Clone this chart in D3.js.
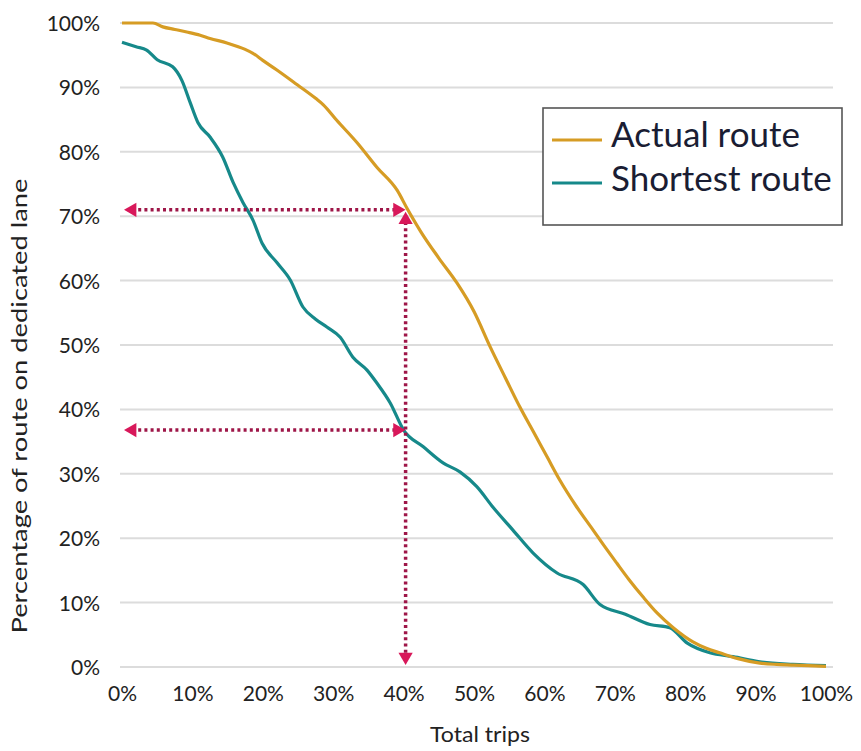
<!DOCTYPE html>
<html>
<head>
<meta charset="utf-8">
<script src="https://cdn.jsdelivr.net/npm/d3@7"></script>
<style>
  html, body { margin: 0; padding: 0; background: #fff; }
  svg { display: block; font-family: Lato, "Open Sans", sans-serif; }
</style>
</head>
<body>
<svg id="chart" width="861" height="751"></svg>
<script>
// ---- data ----
const xTicks = [0, 10, 20, 30, 40, 50, 60, 70, 80, 90, 100];
const yTicks = [0, 10, 20, 30, 40, 50, 60, 70, 80, 90, 100];

const actualX = [0, 2.5, 4.4, 5.8, 7.5, 9.2, 11.1, 12.5, 14.9, 17.5, 18.6, 20, 22, 24.9, 27.5, 28.6, 30.5, 33.4, 36.2, 39.1, 40.5, 42.5, 45, 47.6, 50, 52.3, 54.5, 56.5, 58.5, 60.4, 62.2, 64.5, 66.9, 68.5, 70.3, 72, 74, 76, 78.3, 81.1, 83, 84.9, 87.5, 90.6, 93, 95.5, 97.5, 100];
const actualY = [100, 100, 100, 99.4, 99.0, 98.6, 98.1, 97.6, 96.9, 95.9, 95.3, 94.2, 92.7, 90.4, 88.3, 87.3, 84.9, 81.4, 77.6, 74.0, 71.2, 67.5, 63.5, 59.6, 55.2, 49.7, 44.8, 40.4, 36.4, 32.6, 29.0, 25.0, 21.3, 18.8, 16.1, 13.6, 10.9, 8.4, 6.1, 3.9, 2.9, 2.2, 1.3, 0.6, 0.4, 0.3, 0.2, 0.1];

const shortX = [0, 2, 3.5, 5, 7.2, 8.5, 9.7, 10.8, 12.5, 14.3, 15.8, 17.2, 18.6, 19.9, 22, 23.9, 25.7, 27.5, 29.1, 31, 32.8, 34.8, 36.2, 38.1, 40, 42.8, 45.6, 48, 50.4, 52.7, 55.5, 58.4, 61.8, 65.5, 67.9, 71.5, 75, 77.8, 80.3, 83.5, 86.8, 90.6, 95.3, 100];
const shortY = [97.0, 96.3, 95.8, 94.3, 93.2, 91.1, 87.6, 84.5, 82.3, 79.2, 75.2, 72.1, 69.4, 65.8, 62.8, 60.1, 55.9, 54.0, 52.8, 51.2, 48.1, 46.1, 44.1, 41.0, 36.8, 34.2, 31.7, 30.3, 28.0, 24.8, 21.3, 17.7, 14.6, 12.8, 9.7, 8.2, 6.6, 6.1, 3.7, 2.2, 1.6, 0.8, 0.4, 0.2];

const seriesNames = ["Actual route", "Shortest route"];
const seriesColors = ["#D69C24", "#16898A"];

// guide annotations: at 40% of trips
const guideX = 40;
const guideYs = [71.0, 36.8];

// ---- layout ----
const svg = d3.select("#chart");
const x = d3.scaleLinear().domain([0, 100]).range([122, 826]);
const y = d3.scaleLinear().domain([0, 100]).range([667, 23]);
const fmt = d => d + "%";

// gridlines
svg.append("g").selectAll("line").data(yTicks).join("line")
  .attr("x1", 120).attr("x2", 833)
  .attr("y1", d => y(d)).attr("y2", d => y(d))
  .attr("stroke", "#dcdcdc").attr("stroke-width", 2);

// y axis
const yAxis = svg.append("g").attr("transform", "translate(100,0)")
  .call(d3.axisLeft(y).tickValues(yTicks).tickFormat(fmt).tickSize(0).tickPadding(0));
yAxis.select(".domain").remove();
yAxis.selectAll("text").attr("font-size", 21).attr("fill", "#222")
  .attr("font-family", "Lato, sans-serif").attr("dy", "0.36em");

// x axis
const xAxis = svg.append("g").attr("transform", "translate(0,683)")
  .call(d3.axisBottom(x).tickValues(xTicks).tickFormat(fmt).tickSize(0).tickPadding(0));
xAxis.select(".domain").remove();
xAxis.selectAll("text").attr("font-size", 21).attr("fill", "#222")
  .attr("font-family", "Lato, sans-serif").attr("dy", "0.85em");

// axis titles
svg.append("text").attr("x", 480).attr("y", 742).attr("text-anchor", "middle")
  .attr("font-size", 21).attr("fill", "#222")
  .attr("textLength", 100).attr("lengthAdjust", "spacingAndGlyphs")
  .text("Total trips");
svg.append("text").attr("transform", "translate(27,406) rotate(-90)")
  .attr("text-anchor", "middle").attr("font-size", 22).attr("fill", "#222")
  .attr("textLength", 455).attr("lengthAdjust", "spacingAndGlyphs")
  .text("Percentage of route on dedicated lane");

// lines
const line = d3.line().x(d => x(d[0])).y(d => y(d[1])).curve(d3.curveMonotoneX);
const actualData = actualX.map((v, i) => [v, actualY[i]]);
const shortData = shortX.map((v, i) => [v, shortY[i]]);

svg.append("path").datum(shortData).attr("d", line)
  .attr("fill", "none").attr("stroke", seriesColors[1]).attr("stroke-width", 3.2)
  .attr("stroke-linejoin", "round");
svg.append("path").datum(actualData).attr("d", line)
  .attr("fill", "none").attr("stroke", seriesColors[0]).attr("stroke-width", 3.2)
  .attr("stroke-linejoin", "round");

// dotted guide arrows
const dotColor = "#9E1648";
const headColor = "#D8185A";
const g = svg.append("g");
function head(px, py, dir) {
  const s = 9.5;
  const pts = [[0, 0], [-s * 1.3, -s * 0.75], [-s * 1.3, s * 0.75]];
  g.append("polygon")
    .attr("points", pts.map(p => p.join(",")).join(" "))
    .attr("transform", `translate(${px},${py}) rotate(${dir})`)
    .attr("fill", headColor);
}
guideYs.forEach(v => {
  g.append("line")
    .attr("x1", x(0) + 10).attr("x2", x(guideX) - 6)
    .attr("y1", y(v)).attr("y2", y(v))
    .attr("stroke", dotColor).attr("stroke-width", 3.5)
    .attr("stroke-dasharray", "3,3.2");
  head(x(0) + 2, y(v), 180);
  head(x(guideX) + 2, y(v), 0);
});
g.append("line")
  .attr("x1", x(guideX) + 2).attr("x2", x(guideX) + 2)
  .attr("y1", y(guideYs[0]) + 6).attr("y2", y(0) - 10)
  .attr("stroke", dotColor).attr("stroke-width", 3.5)
  .attr("stroke-dasharray", "3,3.2");
head(x(guideX) + 2, y(guideYs[0]) + 2, -90);
head(x(guideX) + 2, y(0) - 2, 90);

// legend
const lg = svg.append("g");
lg.append("rect").attr("x", 543).attr("y", 108).attr("width", 299).attr("height", 117)
  .attr("fill", "#fff").attr("stroke", "#555").attr("stroke-width", 1.6);
seriesNames.forEach((n, i) => {
  const cy = 140 + i * 43;
  lg.append("line").attr("x1", 552).attr("x2", 602).attr("y1", cy).attr("y2", cy)
    .attr("stroke", seriesColors[i]).attr("stroke-width", 3);
  lg.append("text").attr("x", 611).attr("y", 147 + i * 44)
    .attr("font-size", 35).attr("fill", "#1a1d33").text(n);
});
</script>
</body>
</html>
